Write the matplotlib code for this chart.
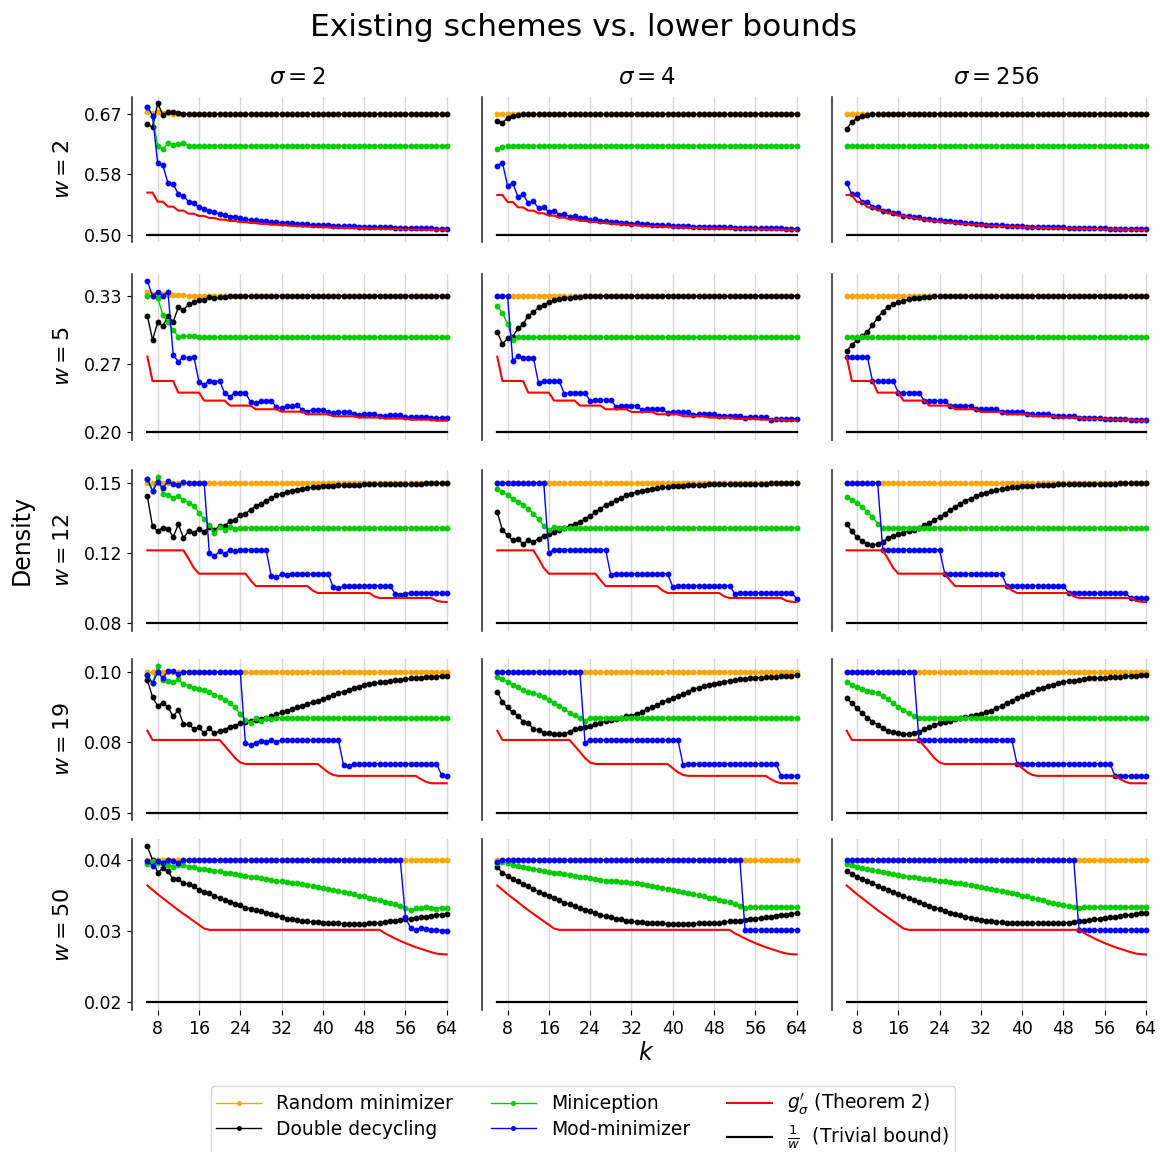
import numpy as np
import matplotlib.pyplot as plt
from matplotlib.lines import Line2D

k_values = np.arange(6, 65)
w_values = [2, 5, 12, 19, 50]
sigma_values = [2, 4, 256]
trivial_bound = [0.5, 0.2, 0.0833, 0.0526, 0.02]      # 1/w
random_level = [0.6667, 0.3333, 0.1538, 0.1, 0.0392]   # 2/(w+1), top tick


def twice(vals):
    out = []
    for v in vals:
        out += [v, v]
    return out


# all densities below are in units of 1e-4, k = 6..64
# each list holds [sigma=2, sigma=4, sigma=256]

# ---- w = 2 ----
random_w2 = [[6690, 6680, 6690, 6680, 6675, 6672] + [6667] * 53,
             [6667] * 59,
             [6667] * 59]
dd_w2 = [[6529, 6483, 6814, 6653, 6699, 6699, 6685] + [6667] * 52,
         [6571, 6548, 6612, 6644, 6658, 6662] + [6667] * 53,
         [6460, 6557, 6607, 6639, 6653, 6662] + [6667] * 53]
mini_w2 = [[6768, 6644, 6226, 6180, 6263, 6240, 6254, 6263] + [6226] * 51,
           [6180, 6217] + [6226] * 57,
           [6226] * 59]
mod_w2 = [[6768, 6644, 5987, 5960, 5712, 5703, 5565, 5537, 5459, 5436, 5381, 5363, 5326, 5313,
           5290, 5276, 5253, 5244, 5230, 5215, 5210, 5200, 5195, 5187, 5182, 5175, 5170, 5165,
           5160, 5155, 5151, 5147, 5143, 5140, 5136, 5133, 5130, 5127, 5124, 5121, 5119, 5116,
           5114, 5112, 5110, 5108, 5106, 5104, 5102, 5100, 5098, 5097, 5095, 5093, 5092, 5090,
           5089, 5087, 5086],
          [5951, 5997, 5680, 5717, 5528, 5561, 5437, 5464, 5368, 5381, 5317, 5336, 5280, 5289,
           5253, 5262, 5234, 5239, 5212, 5215, 5195, 5197, 5180, 5182, 5168, 5170, 5157, 5159,
           5148, 5149, 5140, 5141, 5133, 5134, 5127, 5128, 5122, 5122, 5117, 5117, 5113, 5113,
           5109, 5109, 5105, 5105, 5102, 5102, 5099, 5099, 5096, 5096, 5093, 5093, 5091, 5091,
           5088, 5088, 5086],
          [5717] + twice([5561, 5459, 5391, 5336, 5299, 5267, 5242, 5220, 5202, 5187, 5174, 5163,
                         5153, 5144, 5136, 5129, 5123, 5117, 5112, 5108, 5104, 5100, 5097, 5094,
                         5091, 5089, 5087, 5085, 5083])]
lb_w2 = [twice([5584, 5459, 5391, 5336, 5294, 5262, 5235, 5212, 5193, 5178, 5165, 5153, 5143,
                5134, 5126, 5119, 5113, 5107, 5102, 5098, 5094, 5090, 5087, 5084, 5081, 5078,
                5076, 5073, 5071]) + [5069],
         twice([5551, 5455, 5381, 5336, 5299, 5267, 5240, 5216, 5196, 5180, 5166, 5154, 5143,
                5134, 5126, 5119, 5113, 5107, 5102, 5098, 5094, 5090, 5087, 5084, 5081, 5078,
                5076, 5073, 5071]) + [5069],
         twice([5551, 5455, 5381, 5336, 5299, 5267, 5240, 5216, 5196, 5180, 5166, 5154, 5143,
                5134, 5126, 5119, 5113, 5107, 5102, 5098, 5094, 5090, 5087, 5084, 5081, 5078,
                5076, 5073, 5071]) + [5069]]

# ---- w = 5 ----
random_w5 = [[3365, 3355, 3350, 3348, 3345, 3342, 3339, 3336, 3335, 3334] + [3333] * 49,
             [3333] * 59,
             [3333] * 59]
dd_w5 = [[3138, 2900, 3072, 3037, 3134, 3079, 3219, 3196, 3248, 3268, 3287, 3294, 3320, 3307,
          3317, 3323, 3326, 3326, 3330, 3331, 3332] + [3333] * 38,
         [2981, 2861, 2916, 2932, 3014, 3053, 3138, 3170, 3219, 3242, 3268, 3287, 3300, 3307,
          3313, 3320, 3323, 3326, 3330, 3331, 3332] + [3333] * 38,
         [2792, 2851, 2900, 2939, 2981, 3046, 3118, 3177, 3219, 3248, 3268, 3284, 3297, 3307,
          3313, 3320, 3323, 3326, 3330, 3331, 3332] + [3333] * 38]
mini_w5 = [[3333, 3330, 3313, 3144, 3072, 2997, 2932, 2939, 2939, 2942] + [2929] * 49,
           [3232, 3167, 3056, 2900] + [2929] * 55,
           [2929] * 59]
mod_w5 = [[3476, 3330, 3372, 3333, 3372, 2753, 2688, 2737, 2721, 2737, 2492, 2460, 2502, 2492,
           2499, 2378, 2346, 2385, 2378, 2385, 2290, 2281, 2307, 2303, 2307, 2242, 2232, 2258,
           2258, 2264, 2216, 2199, 2216, 2216, 2216, 2193, 2183, 2193, 2193, 2193, 2173, 2167,
           2176, 2176, 2176, 2160, 2157, 2163, 2163, 2163, 2150, 2144, 2150, 2150, 2150, 2141,
           2134, 2141, 2134],
          [3330] * 3 + [2694, 2743, 2727, 2727, 2727] + [2476] + [2499] * 4 + [2372] + [2385] * 4
          + [2303] + [2313] * 4 + [2248] + [2258] * 4 + [2216] + [2222] * 4 + [2189] + [2196] * 4
          + [2167] + [2173] * 4 + [2154] + [2160] * 4 + [2137] + [2144] * 4 + [2121] + [2128] * 5,
          [2737] * 5 + [2499] * 5 + [2385] * 5 + [2307] * 5 + [2258] * 5 + [2222] * 5 + [2196] * 5
          + [2173] * 5 + [2154] * 5 + [2141] * 5 + [2131] * 5 + [2121] * 4]
lb_w5 = [[2737] + [2499] * 5 + [2385] * 5 + [2307] * 5 + [2258] * 5 + [2222] * 5 + [2199] * 5
         + [2173] * 5 + [2154] * 5 + [2141] * 5 + [2131] * 5 + [2121] * 5 + [2111] * 3,
         [2737] + [2499] * 5 + [2385] * 5 + [2307] * 5 + [2258] * 5 + [2222] * 5 + [2196] * 5
         + [2173] * 5 + [2154] * 5 + [2141] * 5 + [2128] * 5 + [2121] * 5 + [2111] * 3,
         [2737] + [2499] * 5 + [2385] * 5 + [2307] * 5 + [2258] * 5 + [2222] * 5 + [2196] * 5
         + [2173] * 5 + [2154] * 5 + [2141] * 5 + [2128] * 5 + [2121] * 5 + [2111] * 3]

# ---- w = 12 ----
random_w12 = [[1538] * 59, [1538] * 59, [1538] * 59]
dd_w12 = [[1470, 1319, 1296, 1313, 1308, 1266, 1330, 1261, 1296, 1286, 1308, 1291, 1316, 1303,
           1319, 1321, 1345, 1350, 1378, 1383, 1403, 1420, 1433, 1447, 1462, 1475, 1483, 1492,
           1498, 1503, 1508, 1512, 1515, 1518, 1520, 1522, 1523, 1525, 1525, 1527, 1528, 1528]
          + [1530] * 3 + [1532] * 4 + [1533] * 5 + [1535] * 5,
          [1391, 1300, 1274, 1249, 1254, 1232, 1249, 1241, 1258, 1271, 1283, 1291, 1303, 1313,
           1321, 1333, 1341, 1355, 1370, 1391, 1408, 1425, 1438, 1450, 1463, 1475, 1483, 1492,
           1498, 1503, 1508, 1512, 1515, 1518, 1520, 1522, 1523, 1525, 1527, 1528, 1528]
          + [1530] * 3 + [1532] * 4 + [1533] * 5 + [1535] * 6,
          [1333, 1294, 1266, 1244, 1231, 1228, 1229, 1241, 1261, 1271, 1279, 1288, 1296, 1303,
           1313, 1325, 1336, 1350, 1366, 1383, 1400, 1416, 1433, 1447, 1458, 1470, 1480, 1488,
           1495, 1502, 1507, 1512, 1515, 1518, 1520, 1522, 1523, 1525, 1527]
          + [1528] * 2 + [1530] * 3 + [1532] * 4 + [1533] * 5 + [1535] * 6]
mini_w12 = [[1559, 1495, 1567, 1483, 1475, 1463, 1470, 1453, 1438, 1421, 1388, 1355, 1325, 1288,
             1316, 1300, 1316, 1308] + [1313] * 41,
            [1508, 1492, 1475, 1458, 1442, 1428, 1408, 1383, 1355, 1321, 1300, 1316] + [1313] * 47,
            [1467, 1450, 1438, 1416, 1391, 1366, 1333] + [1313] * 52]
mod_w12 = [[1559, 1495, 1542, 1512, 1545, 1533, 1528, 1542] + [1538] * 4
           + [1187, 1169, 1194, 1182, 1202, 1195] + [1202] * 6 + [1070, 1065, 1079, 1077]
           + [1082] * 8 + [1014, 1010, 1018, 1018, 1020] + [1022] * 7 + [982, 977, 982] + [985] * 8,
           [1538] * 10 + [1187] + [1202] * 11 + [1074] + [1082] * 11 + [1015] + [1022] * 11
           + [982] + [985] * 11 + [957],
           [1538] * 7 + [1202] * 12 + [1082] * 12 + [1022] * 12 + [985] * 12 + [960] * 4]
lb_w12 = [[1199] * 8 + [1157, 1111] + [1082] * 10 + [1049] + [1020] * 11 + [998] + [985] * 11
          + [968] + [960] * 11 + [946, 941, 940]] * 3

# ---- w = 19 ----
random_w19 = [[1000] * 59, [1000] * 59, [1000] * 59]
dd_w19 = [[973, 915, 886, 897, 881, 850, 872, 824, 824, 808, 813, 793, 810, 793, 801, 805, 816,
           818, 827, 833, 836, 838, 842, 846, 850, 857, 864, 870, 875, 881, 887, 892, 898, 903,
           908, 916, 923, 928, 934, 939, 945, 951, 956, 960, 962, 965, 967, 970, 972, 974, 976,
           978, 979, 981, 982, 983, 984, 987, 988],
          [934, 898, 881, 864, 852, 833, 829, 807, 805, 796, 793, 791, 791, 791, 799, 807, 810,
           814, 819, 824, 829, 834, 838, 842, 846, 850, 853, 859, 866, 874, 881, 889, 898, 906,
           911, 919, 926, 934, 942, 947, 953, 956, 961, 964, 967, 970, 973, 975, 976, 979, 980,
           981, 982, 983, 984, 985, 987, 988, 989],
          [911, 895, 878, 861, 846, 833, 822, 810, 802, 797, 793, 791, 791, 793, 799, 807, 814,
           822, 827, 833, 836, 841, 844, 847, 852, 855, 859, 864, 870, 878, 886, 895, 902, 911,
           919, 926, 934, 942, 947, 953, 957, 962, 965, 969, 971, 973, 975, 978, 979, 980, 981,
           982, 983, 984, 985, 987, 988, 989, 990]]
mini_w19 = [[990, 962, 1020, 973, 971, 965, 975, 958, 953, 947, 943, 939, 932, 923, 915, 906, 895,
             881, 857, 838, 829, 844, 836, 844, 842] + [846] * 34,
            [984, 975, 966, 956, 948, 939, 934, 928, 923, 915, 906, 897, 886, 874, 863, 855, 844,
             836] + [846] * 41,
            [967, 956, 948, 942, 937, 934, 928, 919, 908, 895, 883, 872, 861, 852] + [846] * 45]
mod_w19 = [[990, 962, 999, 979, 1003, 1003, 992] + [1001] * 12
           + [760, 754, 762, 769, 765, 771, 765] + [771] * 12 + [687, 684, 689] + [691] * 16
           + [653, 648],
           [1001] * 17 + [762] + [771] * 18 + [687] + [691] * 18 + [650] * 4,
           [1001] * 14 + [771] * 19 + [691] * 19 + [650] * 7]
lb_w19 = [[802] + [771] * 14 + [751, 731, 710, 695] + [690] * 15 + [676, 662, 653] + [650] * 16
          + [639, 630] + [625] * 4] * 3

# ---- w = 50 ----
random_w50 = [[392.2] * 59, [392.2] * 59, [392.2] * 59]
dd_w50 = [[410.7, 392.7, 375.5, 381.4, 376.9, 366.5, 366.5, 361.1, 359.8, 356.6, 352.1, 348.5,
           347.6, 343.1, 340.8, 337.7, 336.3, 333.2, 331.8, 328.2, 326.4, 325.1, 323.2, 321.4,
           319.6, 317.8, 315.1, 313.3, 312.0, 311.1, 310.2, 309.3, 308.8, 308.4, 307.9, 307.5,
           307.0, 306.6, 306.1, 306.1, 306.1, 306.1, 306.1, 306.6, 307.0, 307.9, 308.4, 309.3,
           310.2, 311.5, 312.4, 313.3, 314.2, 315.1, 316.0, 316.9, 317.8, 318.7, 319.6],
          [383.6, 374.6, 371.0, 367.0, 363.4, 359.8, 356.6, 353.0, 349.8, 346.7, 344.0, 340.8,
           337.7, 334.9, 332.3, 329.6, 327.3, 325.0, 322.8, 320.5, 318.3, 316.5, 314.7, 313.3,
           312.0, 310.6, 309.7, 308.8, 308.4, 307.9, 307.5, 307.0, 306.6, 306.1, 306.1, 306.1,
           306.1, 306.1, 306.1, 306.6, 306.6, 307.0, 307.5, 307.9, 308.4, 309.3, 309.7, 310.6,
           311.5, 312.4, 313.3, 314.2, 315.1, 316.0, 316.9, 317.8, 318.7, 319.6, 320.5],
          [378.2, 373.7, 370.1, 367.0, 363.8, 360.7, 357.5, 354.8, 352.1, 348.9, 346.2, 343.5,
           340.8, 338.1, 335.4, 332.7, 330.5, 328.2, 326.0, 323.7, 321.4, 319.6, 317.8, 316.0,
           314.2, 312.9, 311.5, 310.6, 309.7, 308.8, 308.4, 307.9, 307.5, 307.0, 307.0, 306.6,
           306.6, 306.6, 306.6, 306.6, 306.6, 307.0, 307.5, 307.9, 308.4, 309.3, 310.2, 311.1,
           312.0, 312.9, 313.8, 314.7, 315.6, 316.5, 317.4, 318.3, 319.2, 320.1, 321.0]]
mini_w50 = [[387.2, 391.7, 389.0, 388.1, 385.9, 383.6, 385.9, 385.0, 383.6, 382.3, 380.9, 380.0,
             379.1, 377.8, 376.9, 375.5, 374.6, 373.7, 372.4, 371.0, 370.1, 368.8, 367.9, 366.5,
             365.2, 363.8, 363.4, 362.5, 361.6, 361.1, 360.2, 358.9, 357.5, 356.1, 354.8, 353.4,
             352.1, 350.7, 348.9, 347.6, 346.2, 344.4, 343.1, 341.3, 339.5, 337.7, 335.9, 334.1,
             332.3, 330.5, 327.3, 324.6, 327.3, 328.2, 328.6, 328.2, 326.8, 328.2, 328.2],
            [388.1, 390.4, 388.1, 385.9, 384.5, 382.7, 381.4, 380.0, 379.1, 377.8, 376.4, 375.5,
             374.6, 373.3, 372.4, 371.0, 370.1, 369.2, 367.9, 366.5, 365.6, 364.7, 363.8, 363.4,
             362.9, 362.5, 362.0, 361.1, 360.2, 358.9, 357.5, 356.1, 354.8, 353.4, 352.1, 350.7,
             348.9, 347.6, 346.2, 344.9, 343.1, 341.7, 340.4, 338.6, 336.8, 335.0, 333.2, 330.9,
             327.3] + [328.6] * 10,
            [387.2, 385.0, 382.7, 381.4, 380.0, 378.7, 377.3, 376.0, 375.1, 373.7, 372.4, 371.0,
             370.1, 368.8, 367.9, 367.0, 366.1, 365.2, 364.3, 363.4, 362.5, 361.6, 360.7, 359.8,
             358.9, 357.5, 356.1, 354.8, 353.4, 352.1, 350.7, 348.9, 347.6, 346.2, 344.4, 343.1,
             341.3, 339.5, 337.7, 335.9, 334.1, 332.7, 331.4, 330.0, 328.6, 327.3] + [328.6] * 13]
mod_w50 = [[391.7, 384.5, 391.7, 389.0, 392.7, 391.7, 388.1] + [392.7] * 43
           + [315.1, 300.2, 298.0, 300.2, 298.9, 298.0, 298.0, 297.1, 297.1],
           [390.4] + [392.7] * 47 + [298.0] * 11,
           [392.7] * 45 + [298.0] * 14]
lb_w50 = [[357.9, 352.1, 346.2, 340.8, 335.4, 330.0, 324.6, 319.6, 314.7, 309.7, 304.8, 299.8]
          + [298.0] * 34 + [293.5, 289.9, 286.3, 283.1, 280.0, 277.3, 274.6, 272.3, 270.1,
                            267.8, 266.0, 265.1, 264.7]] * 3

random_all = [random_w2, random_w5, random_w12, random_w19, random_w50]
dd_all = [dd_w2, dd_w5, dd_w12, dd_w19, dd_w50]
mini_all = [mini_w2, mini_w5, mini_w12, mini_w19, mini_w50]
mod_all = [mod_w2, mod_w5, mod_w12, mod_w19, mod_w50]
lb_all = [lb_w2, lb_w5, lb_w12, lb_w19, lb_w50]

GREEN = '#00cc00'
dot_style = dict(marker='o', markersize=3.2, linewidth=1.0)

W, H = 1161, 1152
fig = plt.figure(figsize=(W / 100, H / 100), dpi=100)

col_left = [132.4, 482.3, 831.7]
col_width = 329.3
row_span = [(96.7, 241.6), (273.6, 439.5), (469.7, 630.6), (658.7, 820.0), (838.7, 1010.1)]

for i, w in enumerate(w_values):
    top, bot = row_span[i]
    first = None
    for j, s in enumerate(sigma_values):
        rect = [col_left[j] / W, 1 - bot / H, col_width / W, (bot - top) / H]
        ax = fig.add_axes(rect, sharey=first)
        if first is None:
            first = ax
        ax.plot(k_values, np.array(random_all[i][j]) / 1e4, color='orange', **dot_style)
        ax.plot(k_values, np.array(dd_all[i][j]) / 1e4, color='black', **dot_style)
        ax.plot(k_values, np.array(mini_all[i][j]) / 1e4, color=GREEN, **dot_style)
        ax.plot(k_values, np.array(mod_all[i][j]) / 1e4, color='blue', **dot_style)
        ax.plot(k_values, np.array(lb_all[i][j]) / 1e4, color='red', linewidth=1.5)
        ax.plot(k_values, [trivial_bound[i]] * len(k_values), color='black', linewidth=1.6)

        ax.set_xticks(range(8, 65, 8))
        ax.grid(axis='x', color='#d8d8d8', linewidth=1.0)
        ax.set_axisbelow(True)
        for side in ['top', 'right', 'bottom']:
            ax.spines[side].set_visible(False)
        ax.spines['left'].set_color('#333333')
        ax.spines['left'].set_linewidth(1.2)
        ax.tick_params(labelsize=12.5)

        if i < len(w_values) - 1:
            ax.tick_params(bottom=False, labelbottom=False)
        if j == 0:
            lo, hi = trivial_bound[i], random_level[i]
            ticks = [lo, (lo + hi) / 2, hi]
            ax.set_yticks(ticks)
            ax.set_yticklabels([f"{t:.2f}" for t in ticks])
            ax.set_ylabel(f"$w = {w}$", fontsize=16, labelpad=8)
        else:
            ax.tick_params(left=False, labelleft=False)
        if i == 0:
            ax.set_title(f"$\\sigma = {s}$", fontsize=16.5, pad=9)

fig.text(583 / W, 1 - 28 / H, "Existing schemes vs. lower bounds", fontsize=22.5,
         ha='center', va='center')
fig.text(22 / W, 1 - 540 / H, "Density", fontsize=17, rotation=90, ha='center', va='center')
fig.text(646 / W, 1 - 1053 / H, "$k$", fontsize=17, ha='center', va='center')

handles = [
    Line2D([], [], color='orange', **dot_style),
    Line2D([], [], color='black', **dot_style),
    Line2D([], [], color=GREEN, **dot_style),
    Line2D([], [], color='blue', **dot_style),
    Line2D([], [], color='red', linewidth=1.5),
    Line2D([], [], color='black', linewidth=1.6),
]
labels = ["Random minimizer", "Double decycling", "Miniception", "Mod-minimizer",
          "$g^{\\prime}_{\\sigma}$ (Theorem 2)", "$\\frac{1}{w}$  (Trivial bound)"]
fig.legend(handles, labels, loc='upper center', bbox_to_anchor=(583 / W, 1 - 1086 / H),
           borderaxespad=0, borderpad=0.3, ncol=3, fontsize=13.5, handlelength=2.4,
           columnspacing=2.0, markerscale=0.8, labelspacing=0.35)

fig.savefig('out.png', dpi=100)
